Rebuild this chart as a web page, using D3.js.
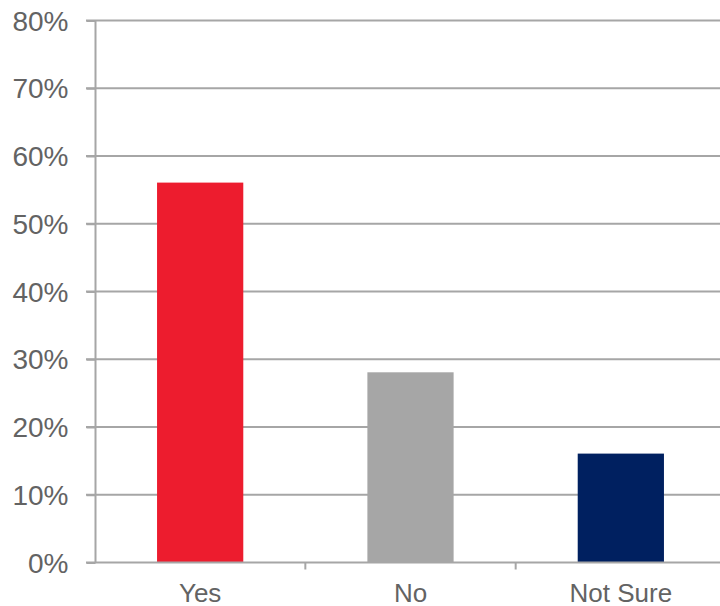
<!DOCTYPE html>
<html><head><meta charset="utf-8">
<script src="https://cdn.jsdelivr.net/npm/d3@7"></script>
<style>body{margin:0;background:#fff}svg{display:block}</style>
</head><body><svg id="c" width="720" height="606"></svg>
<script>
const categories = ["Yes", "No", "Not Sure"];
const values = [56, 28, 16];
const colors = ["#ED1C2E", "#A6A6A6", "#002060"];
const yTicks = [0, 10, 20, 30, 40, 50, 60, 70, 80];

const svg = d3.select("#c");
const x = d3.scaleBand().domain(categories).range([95, 726]).paddingInner(0.59).paddingOuter(0.295);
const y = d3.scaleLinear().domain([0, 80]).range([562, 20]);
const grid = "#A6A6A6", txt = "#636363";

// gridlines
svg.append("g").selectAll("line").data(yTicks.filter(d => d > 0)).join("line")
  .attr("x1", 86).attr("x2", 720).attr("y1", d => y(d) + 0.5).attr("y2", d => y(d) + 0.5)
  .attr("stroke", grid).attr("stroke-width", 2);

// bars
svg.append("g").selectAll("rect").data(values).join("rect")
  .attr("x", (d, i) => x(categories[i])).attr("width", x.bandwidth())
  .attr("y", d => y(d)).attr("height", d => y(0) - y(d))
  .attr("fill", (d, i) => colors[i]);

// y axis
const ya = svg.append("g").attr("transform", "translate(95.5,0)")
  .call(d3.axisLeft(y).tickValues(yTicks).tickFormat(d => d + "%").tickSize(9).tickPadding(18));
ya.select(".domain").attr("stroke", grid).attr("stroke-width", 2).attr("d", "M0,20V562");
ya.selectAll(".tick line").attr("stroke", grid).attr("stroke-width", 2).attr("transform", "translate(0,0.5)");
ya.selectAll("text").attr("font-family", "Liberation Sans, Arial, sans-serif").attr("font-size", 28)
  .attr("fill", txt).attr("dy", "0.36em");

// x axis
const xb = d3.scaleLinear().domain([0, 3]).range([95, 726]);
const xa = svg.append("g").attr("transform", "translate(0,562.5)");
xa.append("line").attr("x1", 86).attr("x2", 720).attr("stroke", grid).attr("stroke-width", 2);
xa.selectAll("line.t").data([1, 2]).join("line").attr("class", "t")
  .attr("x1", d => xb(d)).attr("x2", d => xb(d)).attr("y1", 0).attr("y2", 7)
  .attr("stroke", grid).attr("stroke-width", 2);
xa.selectAll("text").data(categories).join("text")
  .attr("x", d => x(d) + x.bandwidth() / 2).attr("y", 39)
  .attr("text-anchor", "middle").attr("font-family", "Liberation Sans, Arial, sans-serif")
  .attr("font-size", 26).attr("fill", txt).text(d => d);
</script></body></html>
